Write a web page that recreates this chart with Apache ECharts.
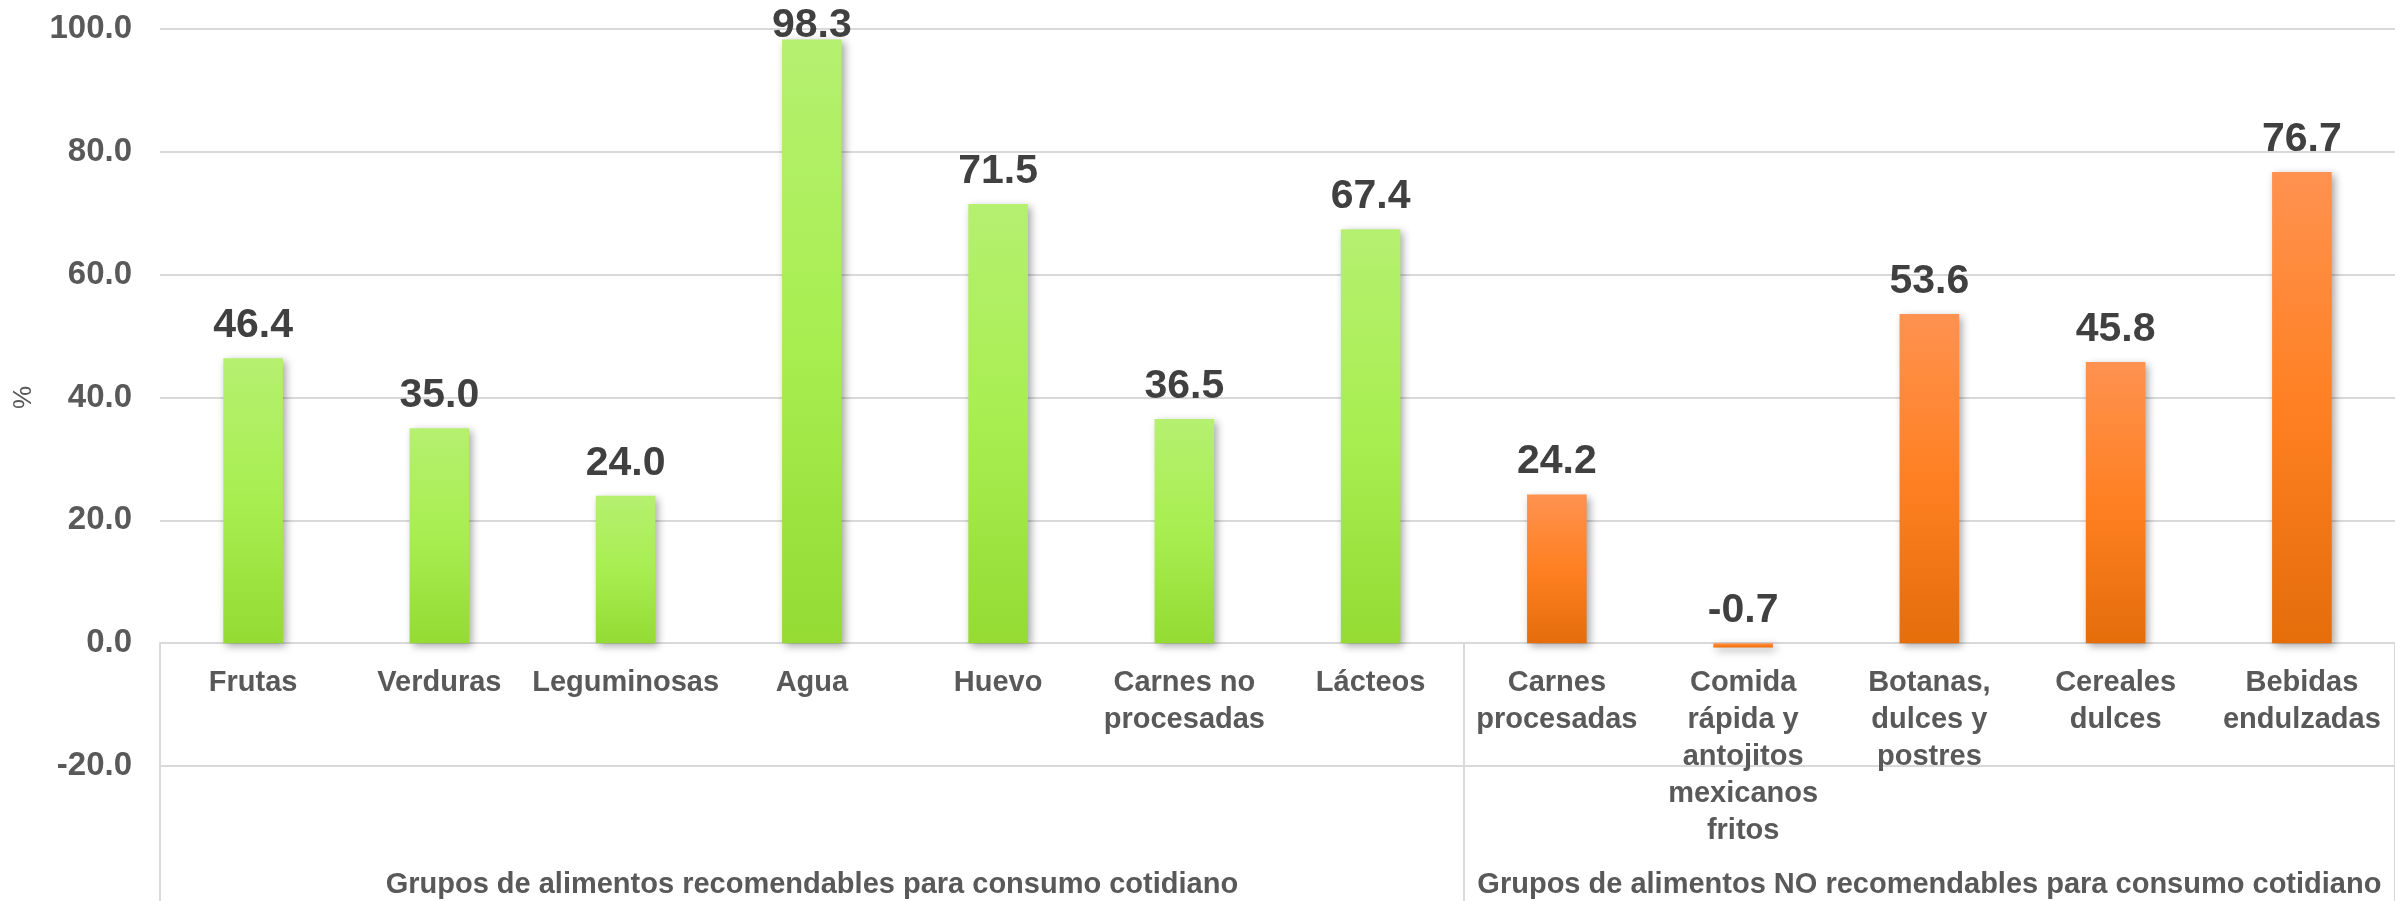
<!DOCTYPE html>
<html>
<head>
<meta charset="utf-8">
<script src="https://cdn.jsdelivr.net/npm/echarts@6/dist/echarts.min.js"></script>
<style>
  html, body { margin: 0; padding: 0; background: #fff; }
  #chart { width: 2395px; height: 901px; }
</style>
</head>
<body>
<div id="chart"></div>
<script>
var categories = [
  'Frutas', 'Verduras', 'Leguminosas', 'Agua', 'Huevo', 'Carnes no\nprocesadas', 'Lácteos',
  'Carnes\nprocesadas', 'Comida\nrápida y\nantojitos\nmexicanos\nfritos', 'Botanas,\ndulces y\npostres',
  'Cereales\ndulces', 'Bebidas\nendulzadas'
];
var values = [46.4, 35.0, 24.0, 98.3, 71.5, 36.5, 67.4, 24.2, -0.7, 53.6, 45.8, 76.7];
var groupNames = [
  'Grupos de alimentos recomendables para consumo cotidiano',
  'Grupos de alimentos NO recomendables para consumo cotidiano'
];
var groupSizes = [7, 5];
var yTicks = [-20, 0, 20, 40, 60, 80, 100];

var fontFamily = '"Liberation Sans", Arial, sans-serif';
var gridTop = 29, gridBottom = 135, chartHeight = 901;
var yMin = yTicks[0], yMax = yTicks[yTicks.length - 1];
// move the category axis up from the grid bottom to the zero line
var plotHeight = chartHeight - gridTop - gridBottom;
var zeroOffset = -plotHeight * (0 - yMin) / (yMax - yMin);

var green = new echarts.graphic.LinearGradient(0, 0, 0, 1, [
  {offset: 0, color: '#b5f070'},
  {offset: 0.5, color: '#a8ee50'},
  {offset: 1, color: '#95db34'}
]);
var orange = new echarts.graphic.LinearGradient(0, 0, 0, 1, [
  {offset: 0, color: '#ff9250'},
  {offset: 0.5, color: '#ff8022'},
  {offset: 1, color: '#e56d0a'}
]);

var barData = values.map(function(v, i) {
  var item = {
    value: v,
    itemStyle: {color: i < groupSizes[0] ? green : orange}
  };
  // labels that would leave the picture are pulled inside, as in the original
  if (v > yMax - 5) {
    item.label = {distance: -7};
  }
  return item;
});

var chart = echarts.init(document.getElementById('chart'));

var option = {
  backgroundColor: '#fff',
  animation: false,
  textStyle: {fontFamily: fontFamily},
  grid: {left: 160, right: 0, top: gridTop, bottom: gridBottom, outerBoundsMode: 'none', containLabel: false},
  xAxis: {
    type: 'category',
    data: categories,
    offset: zeroOffset,
    axisLine: {onZero: false, lineStyle: {color: '#d9d9d9', width: 2}},
    axisTick: {
      show: true,
      interval: function(i) { return i === 0 || i === groupSizes[0]; },
      length: 258,
      lineStyle: {color: '#d9d9d9', width: 2}
    },
    axisLabel: {
      interval: 0,
      color: '#595959',
      fontWeight: 'bold',
      fontSize: 29,
      lineHeight: 37,
      margin: 21,
      fontFamily: fontFamily
    }
  },
  yAxis: {
    type: 'value',
    min: yMin,
    max: yMax,
    interval: 20,
    name: '%',
    nameLocation: 'middle',
    nameGap: 123,
    nameTextStyle: {color: '#595959', fontSize: 26, fontFamily: fontFamily},
    axisLine: {show: false},
    axisTick: {show: false},
    splitLine: {lineStyle: {color: '#d9d9d9', width: 2}},
    axisLabel: {
      color: '#595959',
      fontWeight: 'bold',
      fontSize: 33,
      margin: 28,
      fontFamily: fontFamily,
      formatter: function(v) { return v.toFixed(1); }
    }
  },
  series: [{
    type: 'bar',
    data: barData,
    barWidth: '32%',
    itemStyle: {
      shadowColor: 'rgba(0,0,0,0.35)',
      shadowBlur: 8,
      shadowOffsetX: 3,
      shadowOffsetY: 3
    },
    label: {
      show: true,
      position: 'top',
      distance: 12,
      color: '#404040',
      fontWeight: 'bold',
      fontSize: 41,
      fontFamily: fontFamily,
      formatter: function(p) { return p.value.toFixed(1); }
    }
  }]
};

chart.setOption(option);

// group titles under the categories, centred on each group
var start = 0;
var texts = [];
groupSizes.forEach(function(n, g) {
  var x0 = chart.convertToPixel({xAxisIndex: 0}, start);
  var x1 = chart.convertToPixel({xAxisIndex: 0}, start + n - 1);
  texts.push({
    type: 'text',
    x: (x0 + x1) / 2,
    y: 885,
    style: {
      text: groupNames[g],
      fill: '#595959',
      font: 'bold 29px ' + fontFamily,
      textAlign: 'center',
      textVerticalAlign: 'middle'
    }
  });
  start += n;
});
chart.setOption({graphic: texts});
</script>
</body>
</html>
